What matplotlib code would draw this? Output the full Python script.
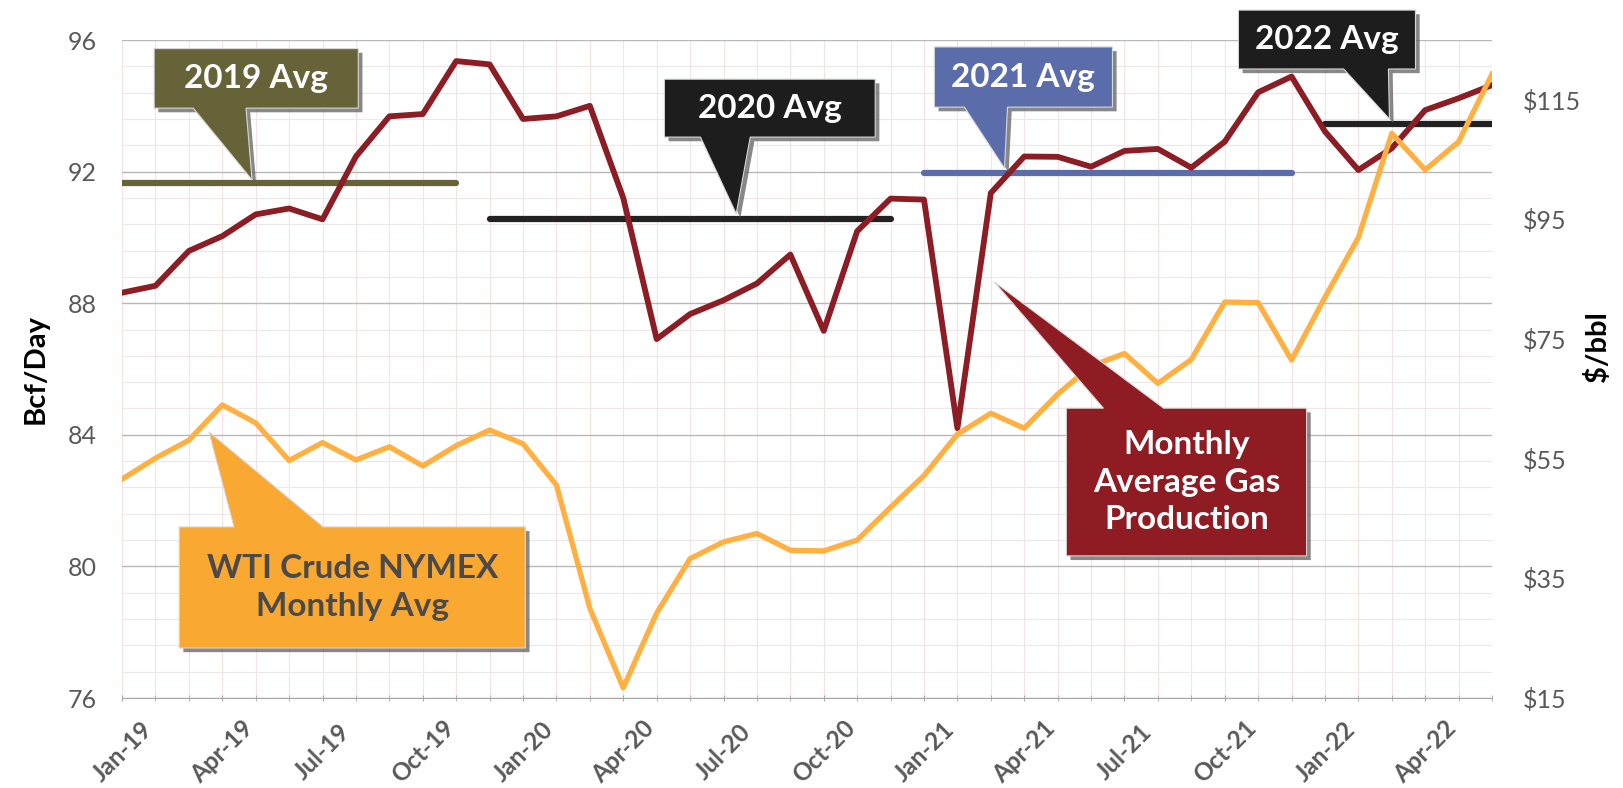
import matplotlib
matplotlib.use("Agg")
import matplotlib.pyplot as plt
from matplotlib.patches import Polygon
from matplotlib import patheffects as pe
from matplotlib.ticker import MultipleLocator, FixedLocator, NullFormatter
import numpy as np
import pandas as pd

plt.rcParams["font.family"] = ["Lato", "DejaVu Sans"]

# Monthly x categories, Jan-19 .. Jun-22
months = pd.date_range("2019-01-01", periods=42, freq="MS")
month_labels = [d.strftime("%b-%y") for d in months]

# Monthly average dry gas production (Bcf/Day, left axis)
gas_bcfd = [
    88.32, 88.53, 89.59, 90.04, 90.70, 90.88, 90.55, 92.46, 93.68, 93.75, 95.36, 95.26,
    93.60, 93.68, 94.00, 91.20, 86.91, 87.67, 88.09, 88.60, 89.48, 87.16, 90.19, 91.18,
    91.15, 84.20, 91.35, 92.46, 92.45, 92.15, 92.63, 92.69, 92.12, 92.91, 94.41, 94.89,
    93.22, 92.05, 92.71, 93.87, 94.23, 94.63,
]

# WTI crude NYMEX monthly average ($/bbl, right axis)
wti_usd = [
    51.6, 55.1, 58.1, 64.0, 61.0, 54.7, 57.7, 54.8, 57.0, 53.8, 57.2, 59.8,
    57.5, 50.6, 30.0, 16.7, 29.2, 38.3, 41.1, 42.5, 39.7, 39.6, 41.4, 46.9,
    52.2, 59.1, 62.6, 60.1, 65.8, 70.5, 72.6, 67.6, 71.6, 81.2, 81.1, 71.5,
    82.0, 92.0, 109.4, 103.3, 108.0, 119.3,
]

# yearly averages: (value, first month index, last month index)
avg_2019 = (91.64, 0, 10)
avg_2020 = (90.57, 11, 23)
avg_2021 = (91.95, 24, 35)
avg_2022 = (93.44, 36, 41)

left_ticks = [76, 80, 84, 88, 92, 96]
right_ticks = [15, 35, 55, 75, 95, 115]

RED = "#8c1d24"
ORANGE = "#ffb040"
OLIVE = "#676339"
BLACK = "#222222"
BLUE = "#5b6cab"
GRAY = "#595959"

fig = plt.figure(figsize=(16.23, 7.88), dpi=100)
ax = fig.add_axes([0.0752, 0.1142, 0.8441, 0.835])
ax2 = ax.twinx()

x = np.arange(len(months))

# grid
ax.set_xlim(0, len(months) - 1)
ax.set_ylim(76, 96)
ax.yaxis.set_major_locator(FixedLocator(left_ticks))
ax.yaxis.set_minor_locator(MultipleLocator(0.8))
ax.xaxis.set_major_locator(FixedLocator(x[::3]))
ax.xaxis.set_minor_locator(FixedLocator(x))
ax.grid(axis="y", which="major", color="#b8b8b8", lw=1.0)
ax.grid(axis="y", which="minor", color="#eee7e7", lw=0.8)
ax.grid(axis="x", which="both", color="#f5e3e6", lw=0.8)
ax.set_axisbelow(True)

for a in (ax, ax2):
    for s in ("top", "left", "right"):
        a.spines[s].set_visible(False)
ax.spines["bottom"].set_color("#a8a8a8")
ax2.spines["bottom"].set_visible(False)

# yearly average lines
for (val, i0, i1), col in zip((avg_2019, avg_2020, avg_2021, avg_2022), (OLIVE, BLACK, BLUE, BLACK)):
    ax.plot(x[i0:i1 + 1], [val] * (i1 - i0 + 1), color=col, lw=4.5, solid_capstyle="round", zorder=3)

ax.plot(x, gas_bcfd, color=RED, lw=4.2, zorder=4)

ax2.set_ylim(15, 125)
ax2.plot(x, wti_usd, color=ORANGE, lw=3.8, zorder=4)
ax2.yaxis.set_major_locator(FixedLocator(right_ticks))
ax2.set_yticklabels([f"${v}" for v in right_ticks])

ax.set_xticklabels([month_labels[i] for i in x[::3]], rotation=45, ha="center", va="center",
                   rotation_mode="anchor", fontweight="bold")
ax.xaxis.set_minor_formatter(NullFormatter())
ax.tick_params(axis="x", which="both", direction="inout", length=5, color="#a8a8a8",
               labelsize=17.5, labelcolor=GRAY, pad=36)
ax.tick_params(axis="y", which="both", length=0, labelsize=18, labelcolor=GRAY, pad=18)
ax2.tick_params(axis="y", length=0, labelsize=18, labelcolor=GRAY, pad=22)

ax.set_ylabel("Bcf/Day", fontsize=21, fontweight="bold", color="black", labelpad=14)
fig.text(0.984, 0.56, "$/bbl", rotation=90, ha="center", va="center",
         fontsize=21, fontweight="bold", color="black")

# callouts: (text, fill, text colour, box x0, x1, y0, y1, pointer base x0, x1, tip x, tip y, side)
callouts = [
    ("2019 Avg", OLIVE, "white", 0.96, 7.07, 93.93, 95.74, 2.13, 3.71, 3.89, 91.75, "bottom"),
    ("2020 Avg", "#1d1d1d", "white", 16.23, 22.54, 93.05, 94.81, 17.31, 18.80, 18.38, 90.72, "bottom"),
    ("2021 Avg", BLUE, "white", 24.31, 29.64, 93.96, 95.79, 25.21, 26.50, 26.41, 92.10, "bottom"),
    ("2022 Avg", "#1d1d1d", "white", 33.41, 38.71, 95.12, 96.91, 36.56, 37.90, 37.93, 93.60, "bottom"),
    ("WTI Crude NYMEX\nMonthly Avg", "#f9a832", "#4a4a4a", 1.71, 12.07, 77.52, 81.20, 3.35, 6.02, 2.60, 84.09, "top"),
    ("Monthly\nAverage Gas\nProduction", "#8e1c22", "white", 28.26, 35.45, 80.32, 84.81, 29.37, 31.17, 26.10, 88.65, "top"),
]

shadow = [pe.withSimplePatchShadow(offset=(3, -3), shadow_rgbFace="#606060", alpha=0.75)]
for text, fill, tcol, x0, x1, y0, y1, b0, b1, tx, ty, side in callouts:
    if side == "bottom":
        verts = [(x0, y1), (x1, y1), (x1, y0), (b1, y0), (tx, ty), (b0, y0), (x0, y0)]
    else:
        verts = [(x0, y1), (b0, y1), (tx, ty), (b1, y1), (x1, y1), (x1, y0), (x0, y0)]
    poly = Polygon(verts, closed=True, facecolor=fill, edgecolor="#d8d8d8", lw=0.8,
                   zorder=6, clip_on=False, path_effects=shadow)
    ax2.add_patch(poly)
    # polygon lives on ax2 (drawn above both lines) but uses Bcf units
    poly.set_transform(ax.transData)
    ax2.text((x0 + x1) / 2, (y0 + y1) / 2, text, transform=ax.transData, ha="center", va="center",
             fontsize=24, fontweight="bold", color=tcol, linespacing=1.35, zorder=7, clip_on=False)

fig.savefig("out.png", dpi=100)
